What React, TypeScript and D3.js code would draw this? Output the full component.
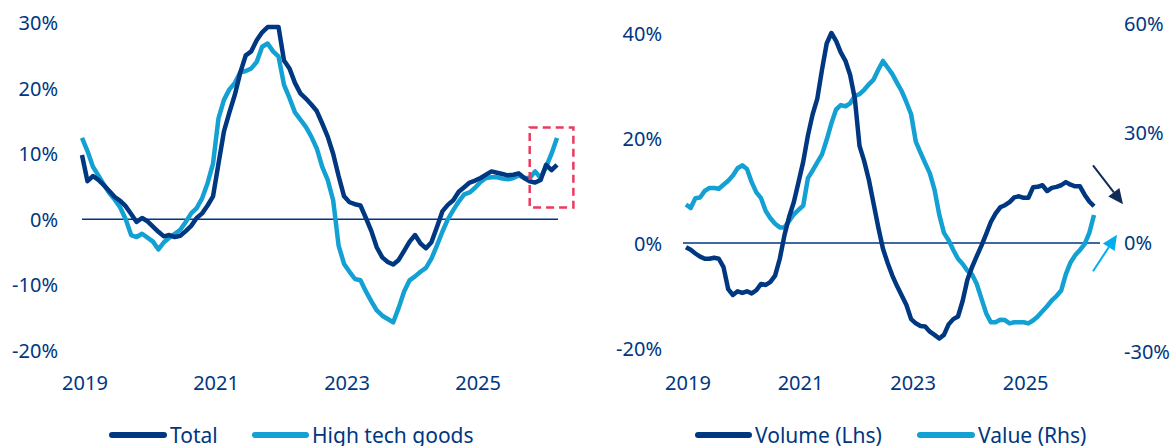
import React from "react";
import * as d3 from "d3";

// Monthly data, Jan 2019 .. Apr 2026 (88 months)
const yearTicks = [2019, 2021, 2023, 2025];
const startYear = 2019;

const totalYoY = [
  9.8, 5.8, 6.6, 6.0, 5.2, 4.3, 3.4, 2.8, 2.0, 0.8,
  -0.4, 0.2, -0.3, -1.1, -1.9, -2.6, -2.4, -2.7, -2.5, -1.8,
  -1.0, 0.2, 0.9, 2.1, 3.5, 8.5, 13.4, 16.3, 19.0, 22.4,
  25.0, 25.6, 27.3, 28.5, 29.3, 29.3, 29.3, 24.2, 23.0, 20.8,
  19.2, 18.4, 17.5, 16.5, 14.6, 12.6, 10.0, 6.6, 3.5, 2.6,
  2.3, 2.1, 0.2, -1.8, -4.3, -5.8, -6.5, -6.9, -6.2, -4.8,
  -3.4, -2.4, -3.7, -4.4, -3.5, -1.2, 1.2, 2.2, 2.9, 4.2,
  4.9, 5.6, 5.9, 6.3, 6.8, 7.3, 7.1, 6.9, 6.7, 6.8,
  7.0, 6.3, 5.8, 5.6, 6.0, 8.3, 7.5, 8.3,
];

const hiTechYoY = [
  12.4, 10.4, 8.0, 6.7, 5.3, 4.0, 3.0, 1.8, 0.0, -2.4,
  -2.7, -2.2, -2.8, -3.4, -4.6, -3.5, -2.8, -2.2, -1.6, -0.4,
  0.9, 1.7, 3.2, 5.5, 8.5, 15.4, 18.2, 19.8, 20.8, 22.4,
  22.6, 23.0, 24.0, 26.3, 26.8, 25.6, 24.8, 20.5, 18.5, 16.3,
  15.2, 14.1, 12.6, 10.8, 8.0, 6.0, 2.9, -4.0, -6.8, -8.0,
  -9.1, -9.3, -11.0, -12.5, -13.9, -14.7, -15.2, -15.7, -13.5, -11.0,
  -9.3, -8.7, -8.0, -7.4, -6.0, -4.0, -1.9, 0.0, 1.4, 2.7,
  3.8, 4.1, 4.8, 5.7, 6.3, 6.4, 6.4, 6.2, 6.1, 6.3,
  6.7, 6.3, 6.3, 7.3, 6.3, 8.0, 10.0, 12.4,
];

const volumeLhs = [
  -0.8, -1.3, -2.0, -2.6, -3.0, -3.0, -2.8, -3.0, -4.6, -8.8,
  -9.9, -9.2, -9.5, -9.2, -9.6, -9.0, -7.8, -8.0, -7.4, -6.2,
  -3.0, 1.5, 5.0, 7.8, 11.6, 15.5, 20.5, 24.5, 27.5, 33.0,
  38.0, 40.0, 38.5, 36.3, 34.7, 32.0, 27.5, 18.5, 15.6, 12.0,
  7.5, 3.0, -1.1, -3.8, -6.2, -8.2, -10.0, -11.8, -14.5, -15.3,
  -15.8, -15.9, -16.9, -17.5, -18.2, -17.5, -15.5, -14.5, -14.0, -11.0,
  -7.0, -4.6, -2.5, -0.5, 1.7, 4.0, 5.6, 6.8, 7.2, 7.8,
  8.7, 8.9, 8.6, 8.6, 10.6, 10.7, 11.0, 9.9, 10.5, 10.7,
  11.0, 11.6, 11.1, 10.8, 10.8, 9.2, 7.9, 7.0,
];

const valueRhs = [
  10.3, 9.3, 12.0, 12.2, 14.0, 14.8, 14.8, 14.6, 15.7, 16.8,
  18.2, 20.2, 21.0, 20.0, 16.4, 13.6, 12.0, 8.5, 6.5, 5.0,
  4.0, 4.0, 5.8, 7.6, 8.8, 10.0, 17.5, 19.6, 21.8, 24.0,
  28.0, 32.5, 36.3, 37.5, 37.2, 38.0, 40.0, 40.5, 41.7, 43.2,
  44.5, 47.2, 49.6, 47.8, 46.0, 43.6, 41.3, 38.3, 35.0, 27.5,
  24.5, 21.6, 18.8, 14.3, 7.5, 2.5, 0.5, -2.2, -4.6, -6.0,
  -7.9, -8.9, -11.5, -15.5, -19.5, -22.0, -22.0, -21.3, -21.4, -22.3,
  -22.0, -22.0, -22.0, -22.3, -21.5, -20.4, -19.0, -17.6, -16.0, -14.8,
  -13.3, -8.8, -5.6, -3.6, -2.2, -0.6, 2.5, 7.4,
];

const leftTicks = [30, 20, 10, 0, -10, -20];
const rightLhsTicks = [40, 20, 0, -20];
const rightRhsTicks = [60, 30, 0, -30];

const DARK = "#003781";
const LIGHT = "#13a0d3";
const TEXT = "#003781";
const FONT = "'Noto Sans', sans-serif";

function Arrow({ x1, y1, x2, y2, color }: { x1: number; y1: number; x2: number; y2: number; color: string }) {
  const ang = Math.atan2(y2 - y1, x2 - x1);
  const hl = 15;
  const hw = 7;
  const bx = x2 - hl * Math.cos(ang);
  const by = y2 - hl * Math.sin(ang);
  const px = -Math.sin(ang) * hw;
  const py = Math.cos(ang) * hw;
  return (
    <g>
      <line x1={x1} y1={y1} x2={bx} y2={by} stroke={color} strokeWidth={2} />
      <polygon points={`${x2},${y2} ${bx + px},${by + py} ${bx - px},${by - py}`} fill={color} />
    </g>
  );
}

export default function App() {
  const n = totalYoY.length;
  const idx = d3.range(n);

  // Left chart scales
  const xL = d3.scaleLinear().domain([0, n - 1]).range([82, 557]);
  const yL = d3.scaleLinear().domain([-20, 30]).range([350.5, 22.5]);

  // Right chart scales
  const xR = d3.scaleLinear().domain([0, n - 1]).range([686, 1094]);
  const yRL = d3.scaleLinear().domain([-20, 40]).range([348, 33]);
  const yRR = d3.scaleLinear().domain([-30, 60]).range([351.5, 23]);

  const lineL = d3.line<number>().x((_, i) => xL(i)).y((d) => yL(d));
  const lineRL = d3.line<number>().x((_, i) => xR(i)).y((d) => yRL(d));
  const lineRR = d3.line<number>().x((_, i) => xR(i)).y((d) => yRR(d));

  const monthOf = (yr: number) => (yr - startYear) * 12;

  const textStyle = { fontFamily: FONT, fontSize: 20, fill: TEXT } as const;

  return (
    <svg width={1175} height={446} style={{ position: "absolute", left: 0, top: 0, background: "#fff" }}>
      {/* ---------- LEFT CHART ---------- */}
      {leftTicks.map((t) => (
        <text key={"lt" + t} x={58} y={yL(t)} textAnchor="end" dominantBaseline="central" {...textStyle}>
          {t}%
        </text>
      ))}
      {yearTicks.map((yr) => (
        <text key={"lx" + yr} x={xL(monthOf(yr)) + 3} y={382} textAnchor="middle" dominantBaseline="central" {...textStyle}>
          {yr}
        </text>
      ))}
      <line x1={xL(0)} x2={xL(n - 1) + 1} y1={yL(0)} y2={yL(0)} stroke={DARK} strokeWidth={1.5} />
      <path d={lineL(hiTechYoY) || ""} fill="none" stroke={LIGHT} strokeWidth={4.5} strokeLinejoin="round" />
      <path d={lineL(totalYoY) || ""} fill="none" stroke={DARK} strokeWidth={4.5} strokeLinejoin="round" />
      <rect
        x={xL(82)}
        y={yL(14)}
        width={xL(90) - xL(82)}
        height={yL(1.8) - yL(14)}
        fill="none"
        stroke="#ec3a5f"
        strokeWidth={2.5}
        strokeDasharray="8 5"
      />

      {/* left legend */}
      <line x1={112} x2={164} y1={435} y2={435} stroke={DARK} strokeWidth={6} strokeLinecap="round" />
      <text x={170} y={435} dominantBaseline="central" {...textStyle} fontSize={21}>
        Total
      </text>
      <line x1={255} x2={306} y1={435} y2={435} stroke={LIGHT} strokeWidth={6} strokeLinecap="round" />
      <text x={312} y={435} dominantBaseline="central" {...textStyle} fontSize={21}>
        High tech goods
      </text>

      {/* ---------- RIGHT CHART ---------- */}
      {rightLhsTicks.map((t) => (
        <text key={"rl" + t} x={662} y={yRL(t)} textAnchor="end" dominantBaseline="central" {...textStyle}>
          {t}%
        </text>
      ))}
      {rightRhsTicks.map((t) => (
        <text key={"rr" + t} x={1124} y={yRR(t)} textAnchor="start" dominantBaseline="central" {...textStyle}>
          {t}%
        </text>
      ))}
      {yearTicks.map((yr) => (
        <text key={"rx" + yr} x={xR(monthOf(yr)) + 2} y={382} textAnchor="middle" dominantBaseline="central" {...textStyle}>
          {yr}
        </text>
      ))}
      <line x1={xR(0) - 3} x2={1100} y1={yRL(0)} y2={yRL(0)} stroke={DARK} strokeWidth={1.5} />
      <path d={lineRR(valueRhs) || ""} fill="none" stroke={LIGHT} strokeWidth={4.5} strokeLinejoin="round" />
      <path d={lineRL(volumeLhs) || ""} fill="none" stroke={DARK} strokeWidth={4.5} strokeLinejoin="round" />

      <Arrow x1={xR(n - 1) - 1} y1={yRL(14.8)} x2={xR(n - 1) + 29} y2={yRL(7.4)} color="#112a57" />
      <Arrow x1={xR(n - 1) - 1} y1={yRR(-8)} x2={xR(n - 1) + 23} y2={yRR(2)} color="#00aeef" />

      {/* right legend */}
      <line x1={698} x2={749} y1={435} y2={435} stroke={DARK} strokeWidth={6} strokeLinecap="round" />
      <text x={755} y={435} dominantBaseline="central" {...textStyle} fontSize={21}>
        Volume (Lhs)
      </text>
      <line x1={920} x2={972} y1={435} y2={435} stroke={LIGHT} strokeWidth={6} strokeLinecap="round" />
      <text x={978} y={435} dominantBaseline="central" {...textStyle} fontSize={21}>
        Value (Rhs)
      </text>
    </svg>
  );
}
